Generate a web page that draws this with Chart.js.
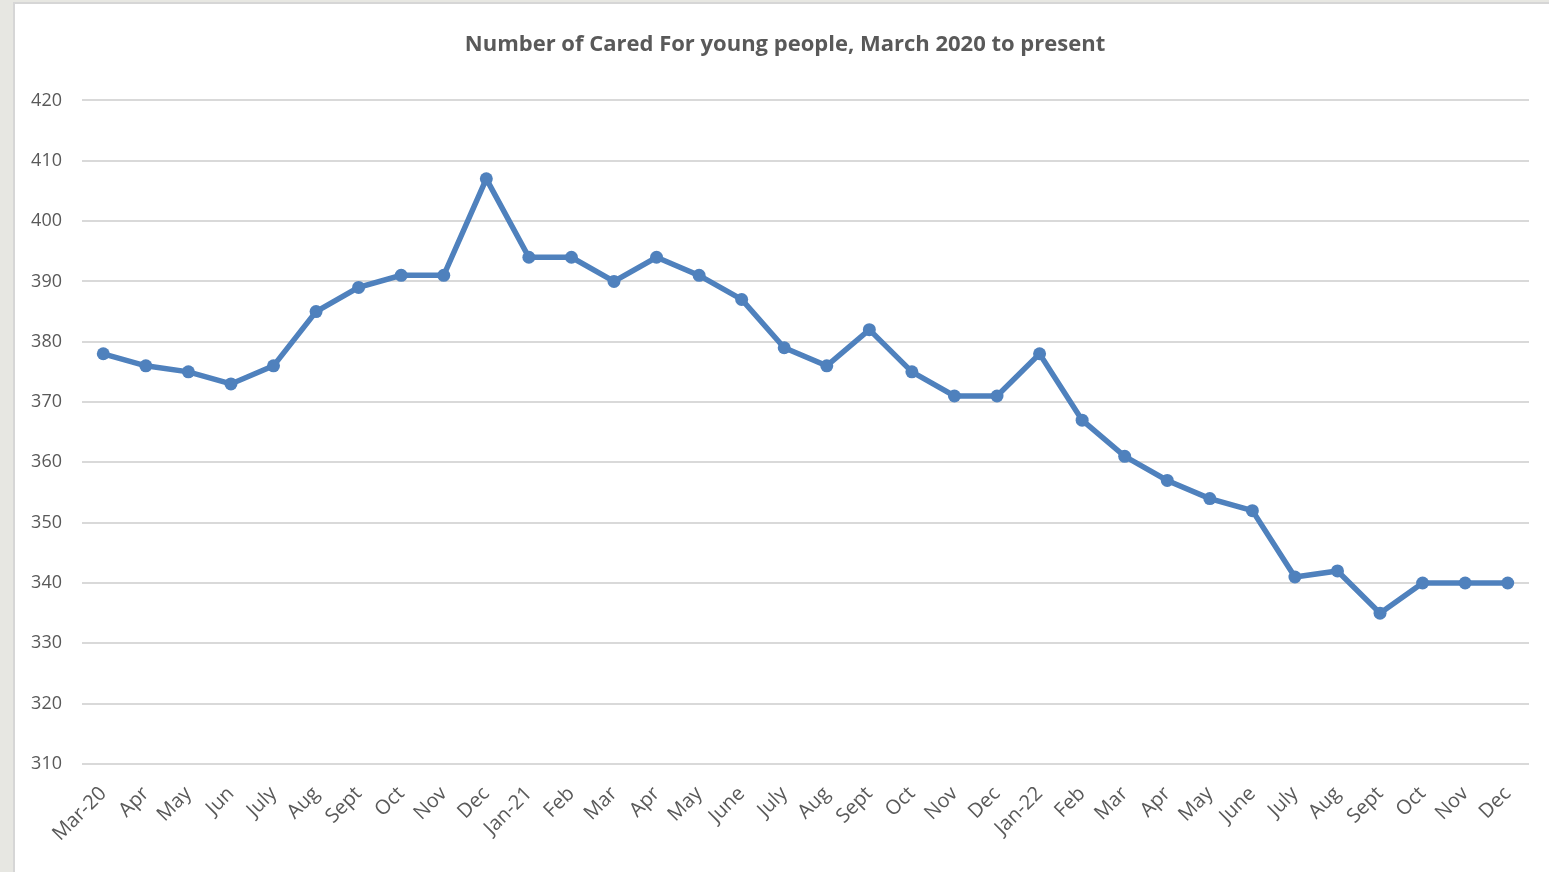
<!DOCTYPE html>
<html>
<head>
<meta charset="utf-8">
<script src="https://cdn.jsdelivr.net/npm/chart.js@4.4.1/dist/chart.umd.min.js"></script>
<style>
  html, body { margin: 0; padding: 0; background: #e7e7e2; overflow: hidden; }
  #wrap {
    position: absolute; left: 13px; top: 2px; width: 1536px; height: 870px;
    background: #fff; border-left: 2px solid #d6d6d6; border-top: 2px solid #d6d6d6;
  }
</style>
</head>
<body>
<div id="wrap"><canvas id="caredChart"></canvas></div>
<script>
// months from March 2020 to December 2022
const months = ['Mar-20', 'Apr', 'May', 'Jun', 'July', 'Aug', 'Sept', 'Oct', 'Nov', 'Dec',
  'Jan-21', 'Feb', 'Mar', 'Apr', 'May', 'June', 'July', 'Aug', 'Sept', 'Oct', 'Nov', 'Dec',
  'Jan-22', 'Feb', 'Mar', 'Apr', 'May', 'June', 'July', 'Aug', 'Sept', 'Oct', 'Nov', 'Dec'];

// number of cared for young people
const caredFor = [378, 376, 375, 373, 376, 385, 389, 391, 391, 407,
  394, 394, 390, 394, 391, 387, 379, 376, 382, 375, 371, 371,
  378, 367, 361, 357, 354, 352, 341, 342, 335, 340, 340, 340];

const yMin = 310, yMax = 420, yStep = 10;

const grey = '#595959';
const lineBlue = '#4f81bd';

// nudge the title a little to the right, as in the original
const titleShift = {
    id: 'titleShift',
    afterLayout: chart => {
        if (chart.titleBlock) {
            chart.titleBlock.left += 13;
            chart.titleBlock.right += 13;
        }
    }
};

let ctx = document.getElementById('caredChart').getContext('2d');

new Chart(ctx, {
    type: 'line',
    data: {
        labels: months,
        datasets: [{
            label: 'Cared For young people',
            data: caredFor,
            borderColor: lineBlue,
            backgroundColor: lineBlue,
            borderWidth: 5.5,
            pointRadius: 6.5,
            pointHoverRadius: 6.5,
            pointBackgroundColor: lineBlue,
            pointBorderWidth: 0,
            tension: 0,
            fill: false
        }]
    },
    plugins: [titleShift],
    options: {
        responsive: true,
        maintainAspectRatio: false,
        animation: false,
        layout: { padding: { left: 0, right: 22, top: 0, bottom: 0 } },
        plugins: {
            legend: { display: false },
            tooltip: { enabled: false },
            title: {
                display: true,
                text: 'Number of Cared For young people, March 2020 to present',
                color: grey,
                font: { family: '"Open Sans", sans-serif', size: 22, weight: 'bold' },
                padding: { top: 28, bottom: 42 }
            }
        },
        scales: {
            x: {
                offset: true,
                grid: { display: false, drawTicks: false },
                border: { display: false },
                ticks: {
                    color: grey,
                    font: { family: '"Open Sans", sans-serif', size: 20 },
                    minRotation: 45,
                    maxRotation: 45,
                    padding: 18,
                    autoSkip: false
                },
                afterFit: axis => { axis.height = 110; }
            },
            y: {
                min: yMin,
                max: yMax,
                grid: { color: '#d9d9d9', lineWidth: 2, drawTicks: false },
                border: { display: false },
                ticks: {
                    stepSize: yStep,
                    color: grey,
                    font: { family: '"Open Sans", sans-serif', size: 18 },
                    padding: 20
                },
                afterFit: axis => { axis.width = 67; }
            }
        }
    }
});
</script>
</body>
</html>
